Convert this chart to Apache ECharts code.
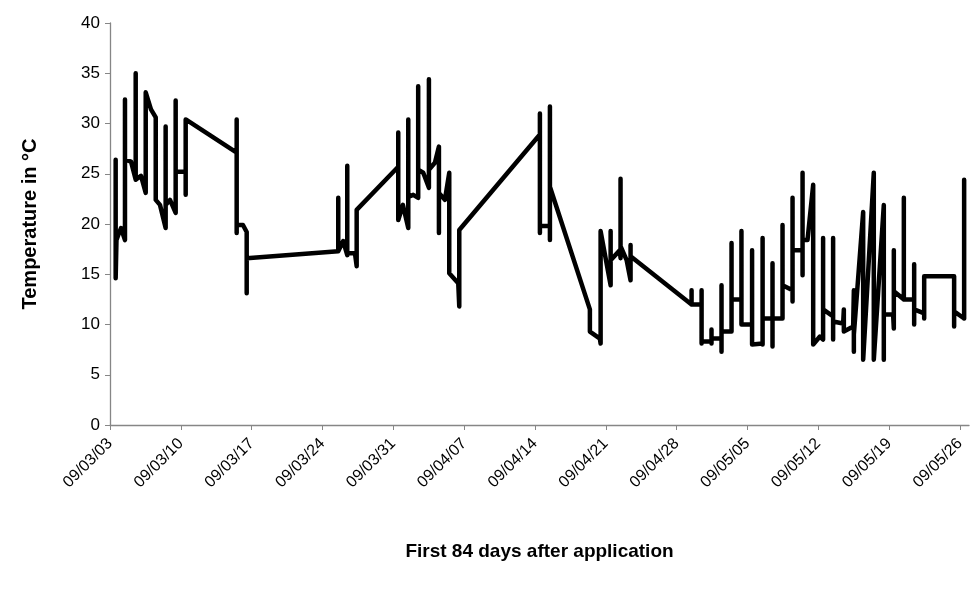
<!DOCTYPE html>
<html>
<head>
<meta charset="utf-8">
<script src="https://cdn.jsdelivr.net/npm/echarts@6/dist/echarts.min.js"></script>
<style>
  html, body { margin: 0; padding: 0; background: #ffffff; }
  #chart { width: 974px; height: 592px; }
</style>
</head>
<body>
<div id="chart"></div>
<script>
// Tick labels (one per week, day 0 .. day 84)
const weekLabels = ['09/03/03','09/03/10','09/03/17','09/03/24','09/03/31','09/04/07','09/04/14','09/04/21','09/04/28','09/05/05','09/05/12','09/05/19','09/05/26'];

// Readings: [days after 09/03/03, temperature °C]
const readings = [
  [0.56,26.4],[0.56,14.6],[0.64,18.4],[0.89,19.1],[1.09,19.6],[1.48,18.4],[1.48,32.4],[1.48,26.4],[2.08,26.2],
  [2.54,24.4],[2.54,35.0],[2.54,24.4],[3.06,24.8],[3.53,23.1],[3.53,33.1],[4.05,31.4],[4.52,30.6],[4.52,22.4],
  [4.94,21.9],[5.50,19.6],[5.50,29.7],[5.50,21.9],[5.93,22.4],[6.49,21.1],[6.49,32.3],[6.49,25.2],[7.48,25.2],
  [7.48,22.9],[7.48,30.4],[12.52,27.1],[12.52,30.4],[12.52,19.1],[12.52,19.9],[13.14,19.9],[13.51,19.2],[13.51,13.1],
  [13.51,16.6],[22.56,17.3],[22.56,22.6],[22.56,17.3],[23.05,18.3],[23.45,16.9],[23.45,25.8],[23.45,17.1],[24.21,17.1],
  [24.38,15.8],[24.38,21.4],[28.49,25.7],[28.49,29.1],[28.49,20.4],[28.95,21.9],[29.48,19.6],[29.48,30.4],[29.48,22.7],
  [29.97,22.9],[30.46,22.6],[30.46,33.7],[30.46,25.4],[30.96,25.1],[31.52,23.6],[31.52,34.4],[31.52,25.4],[32.11,26.1],
  [32.51,27.7],[32.51,19.1],[32.51,23.1],[33.10,22.4],[33.53,25.1],[33.53,15.1],[34.42,14.1],[34.52,11.8],[34.52,19.4],
  [42.49,28.9],[42.49,31.0],[42.49,19.1],[42.49,19.8],[43.48,19.8],[43.48,18.4],[43.48,31.7],[43.48,23.7],[47.43,11.5],
  [47.43,9.3],[48.42,8.6],[48.49,8.1],[48.49,19.3],[49.48,13.9],[49.48,19.3],[49.48,16.4],[50.40,17.4],[50.46,16.6],
  [50.46,24.5],[50.46,17.8],[51.06,16.4],[51.45,14.4],[51.45,17.9],[51.45,16.8],[57.48,12.0],[57.48,13.4],[57.48,12.0],
  [58.47,12.0],[58.47,13.4],[58.47,8.1],[58.47,8.3],[59.45,8.3],[59.45,9.5],[59.45,8.1],[59.45,8.6],[60.44,8.6],
  [60.44,13.9],[60.44,7.3],[60.44,9.3],[61.43,9.3],[61.43,18.1],[61.43,12.5],[62.41,12.5],[62.41,19.3],[62.41,10.0],
  [63.46,10.0],[63.46,17.4],[63.46,8.0],[64.50,8.1],[64.50,18.6],[64.50,8.0],[64.50,10.6],[65.48,10.6],[65.48,16.1],
  [65.48,7.8],[65.48,10.6],[66.47,10.6],[66.47,19.9],[66.47,13.9],[67.46,13.4],[67.46,12.3],[67.46,22.6],[67.46,17.4],
  [68.45,17.4],[68.45,14.9],[68.45,25.1],[68.45,18.4],[68.94,18.4],[69.50,23.9],[69.50,8.0],[70.16,8.8],[70.48,8.5],
  [70.48,18.6],[70.48,11.5],[71.47,10.8],[71.47,18.6],[71.47,8.5],[71.47,10.3],[72.46,10.1],[72.53,11.5],[72.53,9.3],
  [73.45,9.8],[73.52,13.4],[73.52,7.3],[73.52,9.0],[74.44,21.2],[74.44,6.5],[75.49,25.1],[75.49,6.5],[76.48,21.9],
  [76.48,6.5],[76.48,11.0],[77.40,11.0],[77.47,9.6],[77.47,17.4],[77.47,13.3],[78.46,12.5],[78.46,22.6],[78.46,12.5],
  [79.48,12.5],[79.48,16.0],[79.48,10.0],[79.48,11.5],[80.47,11.1],[80.47,10.6],[80.47,14.8],[83.43,14.8],[83.43,9.8],
  [83.43,11.3],[84.42,10.6],[84.42,24.4],[84.42,10.6]
];

const FONT = '"Liberation Sans", sans-serif';
const chart = echarts.init(document.getElementById('chart'), null, { renderer: 'canvas' });
chart.setOption({
  animation: false,
  backgroundColor: '#ffffff',
  grid: { left: 110, right: 5, top: 23, bottom: 167, containLabel: false },
  xAxis: {
    type: 'value',
    min: 0, max: 84.9, interval: 7,
    name: 'First 84 days after application',
    nameLocation: 'middle',
    nameGap: 117,
    nameTextStyle: { fontFamily: FONT, fontSize: 19, fontWeight: 'bold', color: '#000' },
    axisLine: { show: true, onZero: false, lineStyle: { color: '#868686', width: 1.3 } },
    axisTick: { show: true, length: 5, lineStyle: { color: '#868686' } },
    splitLine: { show: false },
    axisLabel: {
      rotate: 45, margin: 16,
      fontFamily: FONT, fontSize: 16, color: '#000',
      showMaxLabel: false,
      formatter: function (v) { return (Math.abs(v / 7 - Math.round(v / 7)) < 1e-6) ? (weekLabels[Math.round(v / 7)] || '') : ''; }
    }
  },
  yAxis: {
    type: 'value',
    min: 0, max: 40, interval: 5,
    name: 'Temperature in °C',
    nameLocation: 'middle',
    nameGap: 70,
    nameTextStyle: { fontFamily: FONT, fontSize: 20, fontWeight: 'bold', color: '#000' },
    axisLine: { show: true, lineStyle: { color: '#868686', width: 1.3 } },
    axisTick: { show: true, length: 5, lineStyle: { color: '#868686' } },
    splitLine: { show: false },
    axisLabel: { margin: 10, fontFamily: FONT, fontSize: 17, color: '#000' }
  },
  series: [{
    type: 'line',
    data: readings,
    showSymbol: false,
    clip: false,
    lineStyle: { color: '#000000', width: 4.5, cap: 'round', join: 'round' }
  }]
});
</script>
</body>
</html>
